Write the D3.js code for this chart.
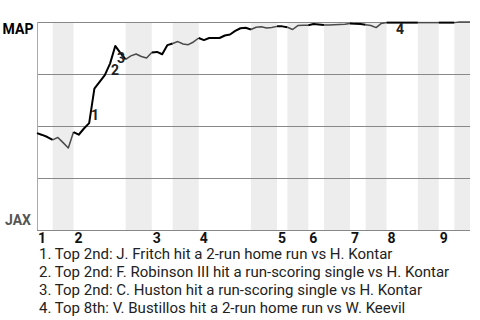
<!DOCTYPE html>
<html>
<head>
<meta charset="utf-8">
<script src="https://cdn.jsdelivr.net/npm/d3@7"></script>
<style>
  body { margin: 0; background: #fff; }
  svg { display: block; font-family: Roboto, sans-serif; }
</style>
</head>
<body>
<div class="chart"></div>
<script>
const margin = ({top: 22, right: 10, bottom: 90, left: 37})
const width = 480 - margin.left - margin.right
const height = 320 - margin.top - margin.bottom

// plate appearances in each half inning (top 1st, bottom 1st, ...)
const halfInningPAs = [3, 4, 10, 5, 4, 5, 10, 5, 2, 4, 3, 5, 3, 4, 6, 4, 3, 3]
const inningLabels = ["1", "2", "3", "4", "5", "6", "7", "8", "9"]
const teams = ["MAP", "JAX"]

// MAP win probability after each plate appearance
const winProb = [
  0.466, 0.457, 0.447, 0.433, 0.445, 0.42, 0.394, 0.471, 0.458, 0.488,
  0.514, 0.68, 0.712, 0.745, 0.80, 0.885, 0.85, 0.82, 0.837, 0.846,
  0.834, 0.827, 0.853, 0.856, 0.845, 0.889, 0.897, 0.906, 0.894, 0.891,
  0.904, 0.923, 0.913, 0.923, 0.923, 0.923, 0.935, 0.94, 0.957, 0.97,
  0.972, 0.964, 0.975, 0.977, 0.971, 0.974, 0.979, 0.979, 0.975, 0.964,
  0.983, 0.984, 0.984, 0.99, 0.988, 0.986, 0.986, 0.987, 0.988, 0.989,
  0.993, 0.991, 0.99, 0.987, 0.983, 0.973, 0.993, 0.997, 0.997, 0.997,
  0.997, 0.997, 0.997, 0.997, 0.997, 0.997, 0.997, 0.997, 0.997, 0.997,
  0.997, 1.0, 1.0, 1.0
]

// key plays: label number, where the marker sits (PA index, win prob)
const playNums = ["1", "2", "3", "4"]
const playIdx = [11.1, 14.95, 16.1, 69.6]
const playProb = [0.553, 0.77, 0.827, 0.966]
const playText = [
  "1. Top 2nd: J. Fritch hit a 2-run home run vs H. Kontar",
  "2. Top 2nd: F. Robinson III hit a run-scoring single vs H. Kontar",
  "3. Top 2nd: C. Huston hit a run-scoring single vs H. Kontar",
  "4. Top 8th: V. Bustillos hit a 2-run home run vs W. Keevil"
]

// start index of each half inning
let starts = []
let acc = 0
halfInningPAs.forEach(n => { starts.push(acc); acc += n })
const totalPAs = acc

const svg = d3.select('.chart').append('svg')
    .attr("width", width + margin.left + margin.right)
    .attr("height", height + margin.top + margin.bottom)
    .append("g")
    .attr("transform", "translate(" + margin.left + "," + margin.top + ")")

// SCALES
const xScale = d3.scaleLinear()
    .domain([0, totalPAs])
    .range([0, width])

const yScale = d3.scaleLinear()
    .domain([0, 1])
    .range([height, 0])

// BANDS for bottom halves
svg.append("g")
    .selectAll("rect")
    .data(halfInningPAs.map((n, i) => ({i, s: starts[i], e: starts[i] + n})).filter(d => d.i % 2 == 1))
    .join("rect")
    .attr("x", d => xScale(d.s))
    .attr("width", d => xScale(d.e) - xScale(d.s))
    .attr("y", 0)
    .attr("height", height)
    .attr("fill", "#ededed")

// GRID
svg.append("g")
    .selectAll("line")
    .data([0, 0.25, 0.5, 0.75, 1])
    .join("line")
    .attr("x1", 0)
    .attr("x2", width)
    .attr("y1", d => Math.round(yScale(d)) + 0.5)
    .attr("y2", d => Math.round(yScale(d)) + 0.5)
    .attr("stroke", "#888")
    .attr("stroke-width", 1)

svg.append("line")
    .attr("x1", 0.5).attr("x2", 0.5)
    .attr("y1", 0).attr("y2", height)
    .attr("stroke", "#aaa")

// LINE, one piece per half inning
const line = d3.line()
    .x(d => xScale(d.i))
    .y(d => yScale(d.p))

svg.append("g")
    .attr("fill", "none")
    .attr("stroke-linejoin", "round")
    .selectAll("path")
    .data(halfInningPAs.map((n, i) => ({
        i,
        pts: d3.range(starts[i], starts[i] + n + 1).map(k => ({i: k, p: winProb[k]}))
    })))
    .join("path")
    .attr("d", d => line(d.pts))
    .attr("stroke", d => d.i % 2 == 0 ? "#000" : "#4a4a4a")
    .attr("stroke-width", d => d.i % 2 == 0 ? 2 : 1.5)

// PLAY MARKERS
svg.append("g")
    .attr("font-size", 14)
    .attr("font-weight", "bold")
    .attr("fill", "#222")
    .attr("text-anchor", "middle")
    .selectAll("text")
    .data(playNums)
    .join("text")
    .attr("x", (d, i) => xScale(playIdx[i]))
    .attr("y", (d, i) => yScale(playProb[i]))
    .attr("dy", "0.36em")
    .text(d => d)

// TEAM LABELS
svg.append("g")
    .attr("font-size", 14)
    .attr("font-weight", "bold")
    .attr("text-anchor", "middle")
    .selectAll("text")
    .data(teams)
    .join("text")
    .attr("x", -19)
    .attr("y", (d, i) => i == 0 ? yScale(1) + 12 : yScale(0) - 5)
    .attr("fill", (d, i) => i == 0 ? "#000" : "#555")
    .text(d => d)

// INNING AXIS
svg.append("g")
    .attr("font-size", 14)
    .attr("font-weight", "bold")
    .attr("fill", "#111")
    .selectAll("text")
    .data(inningLabels)
    .join("text")
    .attr("x", (d, i) => xScale(starts[i * 2]) + 1)
    .attr("y", height + 13)
    .text(d => d)

// PLAY LIST
svg.append("g")
    .attr("font-size", 15)
    .attr("fill", "#222")
    .selectAll("text")
    .data(playText)
    .join("text")
    .attr("x", 2)
    .attr("y", (d, i) => height + 29 + i * 18)
    .text(d => d)
</script>
</body>
</html>
